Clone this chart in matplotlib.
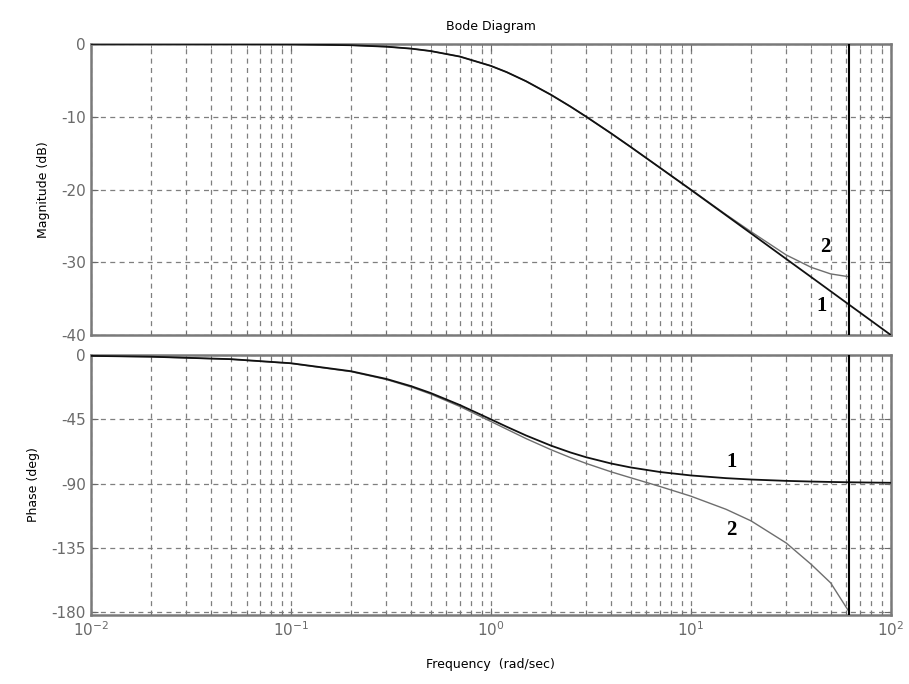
import numpy as np
import matplotlib.pyplot as plt
from matplotlib.ticker import LogLocator, FixedLocator

# Frequency points (rad/sec)
w = [0.01, 0.02, 0.05, 0.1, 0.2, 0.3, 0.4, 0.5, 0.7, 1, 1.2, 1.5, 2, 2.5, 3, 4,
     5, 7, 10, 15, 20, 30, 40, 50, 62, 80, 100]

# Curve 1 (first order lag)
mag1 = [0.0, -0.002, -0.011, -0.043, -0.17, -0.37, -0.64, -0.97, -1.73, -3.01,
        -3.87, -5.12, -6.99, -8.6, -10.0, -12.3, -14.15, -17.0, -20.04, -23.54,
        -26.03, -29.55, -32.04, -33.98, -35.85, -38.06, -40.0]
ph1 = [-0.57, -1.15, -2.86, -5.71, -11.31, -16.7, -21.8, -26.57, -34.99, -45.0,
       -50.19, -56.31, -63.43, -68.2, -71.57, -75.96, -78.69, -81.87, -84.29,
       -86.19, -87.14, -88.09, -88.57, -88.85, -89.08, -89.28, -89.43]

# Curve 2 (ends at the cutoff line)
w2 = w[:25]
mag2 = [0.0, -0.002, -0.011, -0.043, -0.17, -0.37, -0.64, -0.97, -1.73, -3.01,
        -3.87, -5.12, -6.99, -8.6, -10.0, -12.3, -14.15, -17.0, -20.0, -23.45,
        -25.8, -29.0, -30.7, -31.6, -32.0]
ph2 = [-0.58, -1.18, -2.93, -5.86, -11.6, -17.1, -22.4, -27.3, -36.0, -46.5,
       -51.9, -58.5, -66.3, -71.8, -75.9, -81.8, -85.9, -92.0, -98.8, -108.0,
       -116.1, -131.6, -146.6, -159.5, -180.0]

w_cut = 62.0

mag_ticks = [0, -10, -20, -30, -40]
ph_ticks = [0, -45, -90, -135, -180]

grid_kw = dict(color='#7f7f7f', linestyle=(0, (4, 3.5)), linewidth=0.9)
tick_color = '#6a6a6a'

fig = plt.figure(figsize=(9.09, 6.84), dpi=100)
ax1 = fig.add_axes([0.100, 0.5102, 0.880, 0.4255])
ax2 = fig.add_axes([0.100, 0.1009, 0.880, 0.3800])

for ax in (ax1, ax2):
    ax.set_xscale('log')
    ax.set_xlim(1e-2, 1e2)
    ax.xaxis.set_major_locator(LogLocator(base=10, numticks=10))
    ax.xaxis.set_minor_locator(LogLocator(base=10, subs=np.arange(2, 10), numticks=10))
    ax.grid(True, which='both', axis='x', **grid_kw)
    ax.grid(True, which='major', axis='y', **grid_kw)
    ax.tick_params(which='both', direction='in', top=True, right=True,
                   color=tick_color, labelcolor=tick_color, labelsize=11)
    ax.tick_params(which='major', length=5)
    ax.tick_params(which='minor', length=3)
    for sp in ax.spines.values():
        sp.set_color('#7a7a7a')
        sp.set_linewidth(1.8)
    ax.axvline(w_cut, color='black', linewidth=1.5, zorder=5)

ax1.plot(w2, mag2, color='#6e6e6e', linewidth=1.0, zorder=3)
ax1.plot(w, mag1, color='#111111', linewidth=1.3, zorder=4)
ax1.set_ylim(-40, 0)
ax1.yaxis.set_major_locator(FixedLocator(mag_ticks))
ax1.set_yticklabels([str(t) for t in mag_ticks])
ax1.tick_params(labelbottom=False)
ax1.set_ylabel('Magnitude (dB)', fontsize=9, labelpad=8)
ax1.set_title('Bode Diagram', fontsize=9, pad=10)

ax2.plot(w2, ph2, color='#6e6e6e', linewidth=1.0, zorder=3)
ax2.plot(w, ph1, color='#111111', linewidth=1.3, zorder=4)
ax2.set_ylim(-182, 0)
ax2.yaxis.set_major_locator(FixedLocator(ph_ticks))
ax2.set_yticklabels([str(t) for t in ph_ticks])
ax2.set_ylabel('Phase (deg)', fontsize=9, labelpad=8)
ax2.set_xlabel('Frequency  (rad/sec)', fontsize=9, labelpad=14)

lab_kw = dict(fontsize=15, fontweight='bold', family='Liberation Serif',
              ha='center', va='center', zorder=6)
ax1.text(47.3, -27.9, '2', **lab_kw)
ax1.text(45.2, -36.0, '1', **lab_kw)
ax2.text(16.0, -75.0, '1', **lab_kw)
ax2.text(15.9, -122.6, '2', **lab_kw)

fig.savefig('out.png', dpi=100)
